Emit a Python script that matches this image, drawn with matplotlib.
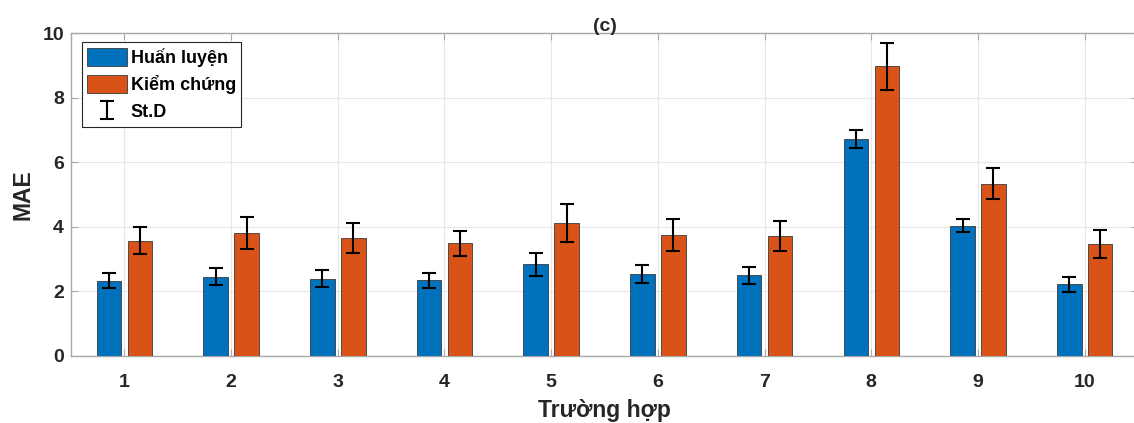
import numpy as np
import matplotlib
matplotlib.use('Agg')
import matplotlib.pyplot as plt

plt.rcParams['font.family'] = ['Liberation Sans', 'DejaVu Sans']

# Dữ liệu
cases = ['1', '2', '3', '4', '5', '6', '7', '8', '9', '10']
train_mae = [2.33, 2.45, 2.39, 2.34, 2.83, 2.52, 2.49, 6.73, 4.03, 2.22]
train_sd = [0.22, 0.26, 0.26, 0.24, 0.36, 0.28, 0.26, 0.28, 0.20, 0.23]
test_mae = [3.56, 3.80, 3.65, 3.49, 4.11, 3.75, 3.72, 8.98, 5.34, 3.47]
test_sd = [0.42, 0.50, 0.48, 0.39, 0.58, 0.49, 0.47, 0.73, 0.49, 0.44]

BLUE = '#0072BD'
ORANGE = '#D95319'
TXT = '#262626'
AXC = '#a8a8a8'

fig = plt.figure(figsize=(11.34, 4.23), dpi=100)
# prawa krawędź osi wychodzi poza obraz (jak w oryginale)
ax = fig.add_axes([0.0626, 0.1591, 0.941, 0.7622])

x = np.arange(1, len(cases) + 1)
w = 0.23
off = 0.145

ax.bar(x - off, train_mae, w, color=BLUE, edgecolor='#3a3a3a', linewidth=0.6,
       label='Huấn luyện', zorder=3)
ax.bar(x + off, test_mae, w, color=ORANGE, edgecolor='#3a3a3a', linewidth=0.6,
       label='Kiểm chứng', zorder=3)
ax.errorbar(x - off, train_mae, yerr=train_sd, fmt='none', ecolor='black',
            elinewidth=1.5, capsize=5, capthick=1.5, zorder=4, label='St.D')
ax.errorbar(x + off, test_mae, yerr=test_sd, fmt='none', ecolor='black',
            elinewidth=1.5, capsize=5, capthick=1.5, zorder=4)

ax.set_xlim(0.5, 10.5)
ax.set_ylim(0, 10)
ax.set_xticks(x)
ax.set_xticklabels(cases)
ax.set_yticks(np.arange(0, 11, 2))

# siatka i osie w stylu MATLAB
ax.grid(True, color='#e6e6e6', linewidth=0.8, zorder=0)
ax.set_axisbelow(True)
for s in ax.spines.values():
    s.set_color(AXC)
    s.set_linewidth(1.0)
ax.tick_params(direction='in', length=5, color=AXC, top=True, right=True,
               labelsize=14, labelcolor=TXT)
ax.tick_params(axis='x', pad=13)
ax.tick_params(axis='y', pad=5)
for lab in ax.get_xticklabels() + ax.get_yticklabels():
    lab.set_fontweight('bold')

ax.set_xlabel('Trường hợp', fontsize=16.5, fontweight='bold', color=TXT, labelpad=6)
ax.set_ylabel('MAE', fontsize=16.5, fontweight='bold', color=TXT, labelpad=6)
ax.set_title('(c)', fontsize=14, fontweight='bold', color=TXT, pad=2)

leg = ax.legend(loc='upper left', bbox_to_anchor=(0.0103, 0.972),
                prop={'weight': 'bold', 'size': 13}, frameon=True, fancybox=False,
                edgecolor='#262626', framealpha=1, borderpad=0.3,
                handlelength=2.2, handleheight=1.15, handletextpad=0.2,
                labelspacing=0.45, borderaxespad=0)
leg.get_frame().set_linewidth(0.8)

fig.savefig('out.png', dpi=100)
